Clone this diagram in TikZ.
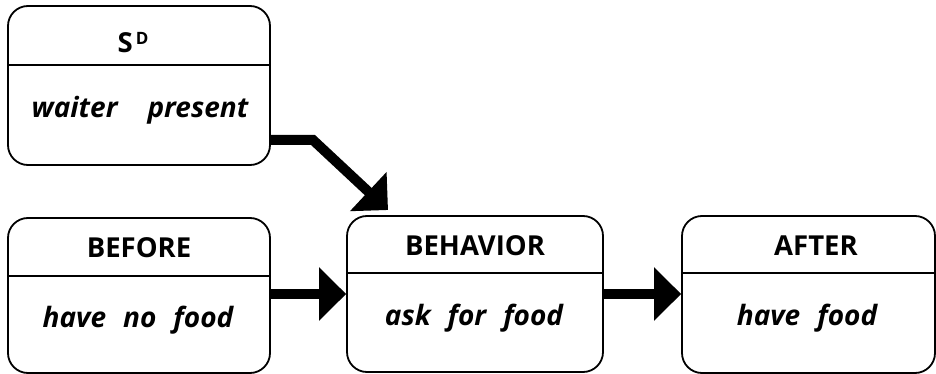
\documentclass[tikz,border=0pt]{standalone}
\usepackage{fontspec}
\setmainfont{Open Sans}
\usetikzlibrary{arrows.meta}
\tikzset{
  box/.style={draw, line width=1.8pt, rounded corners=20pt, minimum width=#1, inner sep=0pt},
  divider/.style={line width=1.6pt},
  head/.style={anchor=base, font=\fontsize{27.5}{30}\selectfont\bfseries, inner sep=0pt},
  body/.style={anchor=base, font=\fontsize{28}{30}\selectfont\bfseries\itshape, inner sep=0pt},
  fat/.style={line width=10pt, line join=miter, -{Triangle[length=27pt,width=52pt]}}
}
\begin{document}
\begin{tikzpicture}[x=1pt,y=-1pt]
\useasboundingbox (0,0) rectangle (936,374);
% boxes
\node[box=262pt, minimum height=159pt] (sd) at (139,85.5) {};
\node[box=262pt, minimum height=155pt] (before) at (139,295.5) {};
\node[box=256pt, minimum height=156pt] (behavior) at (475,294) {};
\node[box=253pt, minimum height=157pt] (after) at (808.5,294.5) {};
% dividers
\draw[divider] (sd.west |- 0,65) -- (sd.east |- 0,65);
\draw[divider] (before.west |- 0,276) -- (before.east |- 0,276);
\draw[divider] (behavior.west |- 0,273) -- (behavior.east |- 0,273);
\draw[divider] (after.west |- 0,273) -- (after.east |- 0,273);
% texts
\node[head] (sdh) at (133,53) {S\hspace{3pt}\raisebox{8.5pt}{\fontsize{17}{18}\selectfont D}};
\node[body] (sdb) at (140,118) {waiter\hspace{30pt}present};
\node[head] (beforeh) at (139,257) {BEFORE};
\node[body] (beforeb) at (138,327) {have\hspace{17pt}no\hspace{17pt}food};
\node[head] (behaviorh) at (475,255) {BEHAVIOR};
\node[body] (behaviorb) at (474,325) {ask\hspace{17pt}for\hspace{17pt}food};
\node[head] (afterh) at (816,255) {AFTER};
\node[body] (afterb) at (807,325) {have\hspace{17pt}food};
% connectors
\coordinate (sdout) at (270,140);
\coordinate (bend) at (313,140);
\coordinate (sdtip) at (388,210);
\draw[fat] (sdout -| sd.east) -- (bend) -- (sdtip);
\draw[fat] (behavior.west -| before.east) -- (behavior.west);
\draw[fat] (behavior.east) -- (behavior.east -| after.west);
\end{tikzpicture}
\end{document}
